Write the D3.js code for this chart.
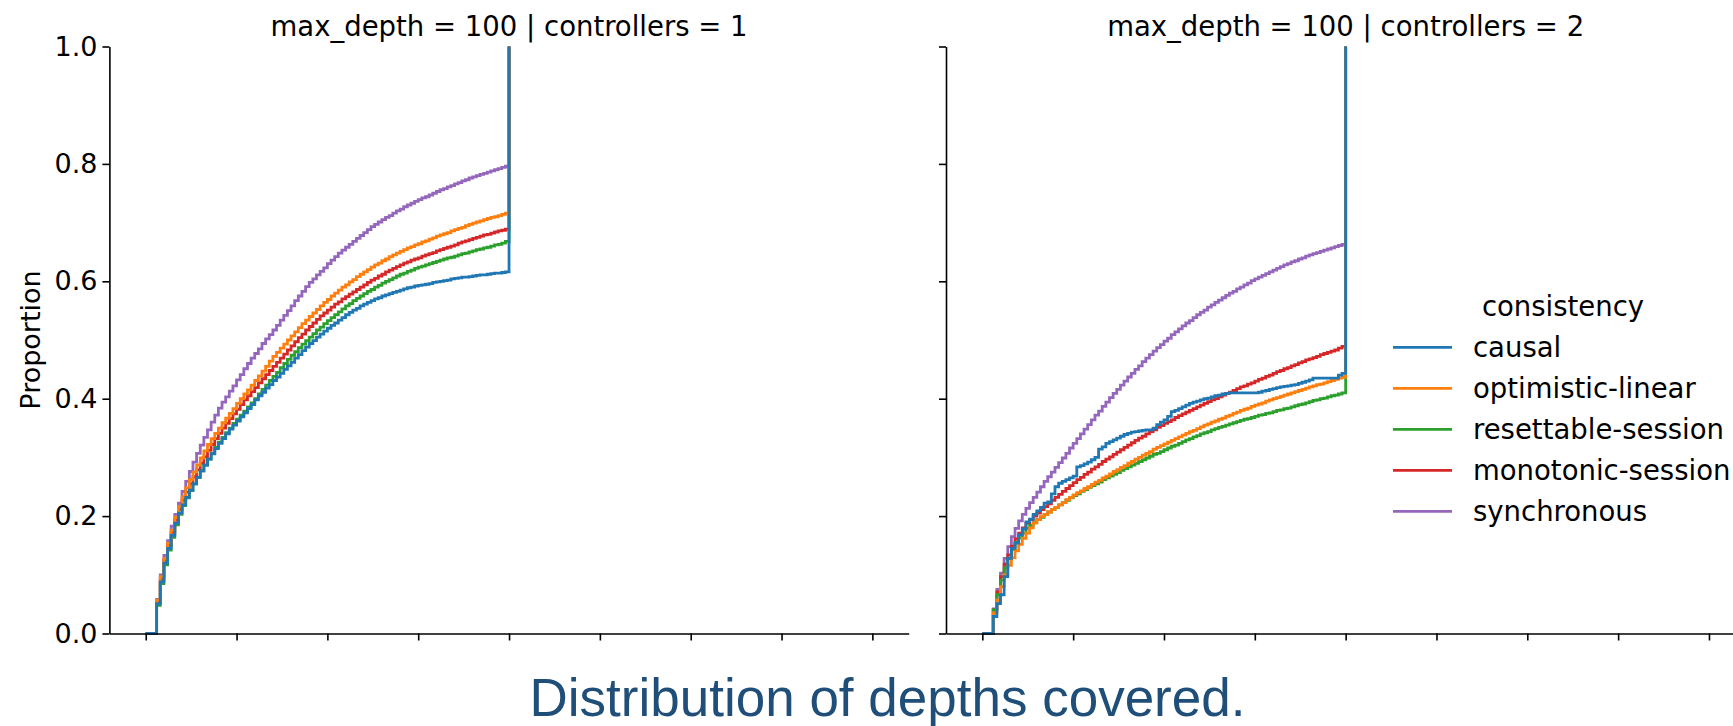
<!DOCTYPE html>
<html>
<head>
<meta charset="utf-8">
<script src="https://cdn.jsdelivr.net/npm/d3@7"></script>
<style>
  body { margin: 0; background: #fff; }
  svg { display: block; }
</style>
</head>
<body>
<script>
const svgWidth = 1733, svgHeight = 726;

// --- data ---------------------------------------------------------------
const hueOrder = ["causal", "optimistic-linear", "resettable-session", "monotonic-session", "synchronous"];
const hueColors = ["#1f77b4", "#ff7f0e", "#2ca02c", "#d62728", "#9467bd"];
const panelTitles = ["max_depth = 100 | controllers = 1", "max_depth = 100 | controllers = 2"];
const yTickValues = [0, 0.2, 0.4, 0.6, 0.8, 1.0];
const xTickValues = [0, 25, 50, 75, 100, 125, 150, 175, 200];
const xDomain = [-10, 210];
const caption = "Distribution of depths covered.";

// cumulative proportion at depth 0..100 (index = depth)
const causal1 = [0,0,0,.051,.088,.120,.145,.167,.188,.205,
  .219,.232,.244,.255,.266,.277,.287,.297,.306,.315,
  .324,.332,.340,.348,.355,.362,.369,.376,.383,.390,
  .398,.405,.411,.418,.424,.431,.437,.443,.450,.456,
  .462,.469,.475,.482,.488,.494,.499,.505,.510,.515,
  .520,.525,.529,.534,.538,.543,.547,.551,.554,.558,
  .561,.564,.567,.570,.572,.575,.577,.579,.581,.583,
  .585,.587,.589,.590,.592,.593,.594,.595,.596,.598,
  .599,.600,.601,.602,.604,.605,.606,.607,.607,.608,
  .609,.610,.611,.611,.612,.613,.614,.614,.615,.616,
  1];
const optimistic1 = [0,0,0,.057,.097,.128,.154,.176,.198,.216,
  .233,.248,.262,.275,.287,.299,.311,.322,.332,.341,
  .350,.359,.367,.375,.383,.392,.400,.408,.415,.423,
  .431,.439,.447,.455,.464,.472,.479,.486,.493,.500,
  .507,.514,.521,.528,.534,.540,.546,.552,.558,.564,
  .569,.575,.580,.585,.590,.594,.599,.603,.608,.612,
  .616,.620,.624,.628,.631,.635,.638,.642,.645,.648,
  .651,.654,.657,.659,.662,.664,.667,.669,.672,.674,
  .677,.679,.681,.683,.686,.688,.690,.692,.695,.697,
  .699,.701,.703,.705,.707,.709,.710,.712,.714,.716,
  1];
const resettable1 = [0,0,0,.048,.085,.117,.142,.164,.185,.203,
  .218,.231,.244,.255,.266,.277,.287,.297,.307,.317,
  .326,.334,.342,.350,.358,.365,.372,.379,.386,.393,
  .400,.408,.416,.423,.431,.438,.445,.453,.460,.467,
  .474,.480,.487,.493,.499,.505,.511,.517,.522,.528,
  .533,.538,.543,.548,.553,.558,.562,.567,.571,.575,
  .579,.583,.586,.590,.593,.597,.600,.603,.606,.609,
  .612,.614,.617,.619,.622,.624,.626,.628,.630,.632,
  .634,.636,.638,.640,.641,.643,.645,.647,.648,.650,
  .652,.654,.655,.657,.658,.660,.662,.663,.665,.668,
  1];
const monotonic1 = [0,0,0,.053,.092,.124,.150,.172,.193,.211,
  .227,.241,.255,.267,.279,.290,.301,.312,.322,.332,
  .341,.350,.358,.366,.374,.382,.390,.398,.405,.412,
  .419,.427,.434,.441,.448,.455,.462,.469,.476,.483,
  .490,.497,.504,.510,.517,.523,.529,.535,.541,.546,
  .551,.556,.561,.565,.570,.574,.578,.582,.586,.590,
  .594,.598,.602,.605,.609,.612,.616,.619,.622,.625,
  .628,.631,.633,.636,.638,.640,.643,.645,.647,.649,
  .652,.654,.656,.658,.660,.662,.665,.667,.669,.671,
  .673,.675,.677,.679,.680,.682,.684,.686,.687,.689,
  1];
const synchronous1 = [0,0,0,.058,.100,.133,.158,.183,.203,.222,
  .242,.259,.276,.292,.307,.321,.334,.347,.360,.372,
  .384,.394,.403,.413,.422,.432,.441,.451,.460,.469,
  .477,.485,.494,.502,.509,.517,.525,.534,.542,.550,
  .558,.567,.575,.583,.591,.598,.604,.611,.617,.623,
  .630,.636,.642,.648,.653,.658,.663,.668,.673,.678,
  .683,.688,.693,.697,.701,.705,.709,.712,.716,.720,
  .723,.727,.730,.733,.736,.739,.742,.744,.747,.750,
  .753,.756,.758,.761,.763,.766,.768,.771,.773,.776,
  .778,.780,.782,.784,.786,.788,.790,.792,.794,.796,
  1];

const causal2 = [0,0,0,.029,.051,.066,.097,.128,.145,.154,
  .168,.178,.190,.195,.203,.209,.215,.222,.224,.238,
  .250,.256,.259,.262,.265,.268,.284,.286,.289,.292,
  .296,.300,.314,.318,.324,.327,.330,.333,.336,.339,
  .341,.343,.344,.345,.346,.347,.347,.350,.356,.360,
  .364,.370,.378,.380,.383,.386,.389,.392,.394,.396,
  .398,.400,.401,.403,.405,.406,.408,.409,.410,.410,
  .410,.410,.410,.410,.410,.410,.411,.413,.414,.416,
  .417,.419,.420,.421,.422,.423,.424,.426,.428,.430,
  .432,.435,.435,.435,.435,.435,.435,.435,.440,.443,
  1];
const optimistic2 = [0,0,0,.035,.057,.080,.100,.116,.129,.141,
  .152,.162,.171,.180,.188,.194,.199,.203,.207,.211,
  .215,.219,.223,.228,.232,.236,.240,.243,.247,.250,
  .254,.258,.261,.265,.268,.272,.276,.279,.283,.286,
  .290,.293,.297,.300,.304,.307,.310,.314,.317,.320,
  .323,.326,.329,.332,.335,.338,.341,.344,.346,.349,
  .352,.355,.357,.360,.362,.365,.367,.370,.372,.375,
  .377,.380,.382,.384,.387,.389,.391,.393,.396,.398,
  .400,.402,.404,.406,.408,.410,.412,.414,.416,.418,
  .420,.422,.424,.425,.427,.429,.431,.433,.435,.437,
  1];
const resettable2 = [0,0,0,.040,.066,.091,.112,.128,.143,.155,
  .163,.171,.179,.184,.189,.194,.198,.203,.207,.211,
  .215,.219,.223,.227,.231,.235,.238,.242,.245,.249,
  .252,.255,.258,.262,.265,.268,.271,.274,.278,.281,
  .284,.287,.290,.293,.296,.299,.302,.305,.307,.310,
  .313,.316,.319,.321,.324,.327,.330,.332,.335,.337,
  .340,.342,.344,.347,.349,.351,.353,.355,.357,.359,
  .361,.363,.365,.366,.368,.370,.372,.373,.375,.376,
  .378,.380,.381,.383,.384,.386,.388,.390,.391,.393,
  .395,.397,.398,.400,.401,.403,.405,.406,.408,.410,
  1];
const monotonic2 = [0,0,0,.040,.071,.097,.118,.134,.149,.161,
  .171,.180,.188,.194,.200,.205,.211,.216,.221,.227,
  .232,.237,.242,.247,.252,.257,.262,.266,.271,.275,
  .280,.284,.288,.293,.297,.301,.305,.309,.313,.317,
  .321,.325,.329,.333,.336,.340,.344,.347,.351,.354,
  .358,.361,.364,.368,.371,.374,.377,.380,.383,.386,
  .389,.392,.395,.398,.400,.403,.406,.409,.411,.414,
  .417,.420,.422,.425,.427,.430,.433,.435,.438,.440,
  .443,.446,.448,.451,.453,.456,.458,.461,.463,.466,
  .468,.470,.472,.475,.477,.479,.481,.483,.486,.489,
  1];
const synchronous2 = [0,0,0,.042,.075,.103,.128,.148,.165,.179,
  .192,.203,.213,.223,.232,.241,.250,.259,.267,.275,
  .283,.291,.299,.307,.316,.324,.332,.340,.348,.356,
  .364,.372,.379,.387,.394,.402,.409,.416,.423,.430,
  .437,.443,.450,.456,.463,.469,.475,.481,.487,.492,
  .498,.503,.509,.514,.519,.524,.529,.533,.538,.543,
  .547,.551,.556,.560,.564,.568,.572,.576,.580,.583,
  .587,.590,.594,.597,.601,.604,.607,.610,.613,.616,
  .619,.622,.625,.628,.630,.633,.635,.638,.640,.643,
  .645,.647,.649,.651,.653,.655,.657,.659,.661,.663,
  1];

const panelSeries = [
  [causal1, optimistic1, resettable1, monotonic1, synchronous1],
  [causal2, optimistic2, resettable2, monotonic2, synchronous2]
];

// --- layout -------------------------------------------------------------
const plotTop = 46.5, plotHeight = 587, plotWidth = 799.3;
const panelLeft = [109.4, 946];
const fontMain = "'DejaVu Sans', sans-serif";

let svg = d3.select("body")
  .append("svg")
  .attr("width", svgWidth)
  .attr("height", svgHeight)
  .style("font-family", fontMain);

let xScale = d3.scaleLinear()
  .domain(xDomain)
  .range([0, plotWidth]);

let yScale = d3.scaleLinear()
  .domain([0, 1])
  .range([plotHeight, 0]);

let stepLine = d3.line()
  .x((d, i) => xScale(i))
  .y((d) => yScale(d))
  .curve(d3.curveStepAfter);

panelSeries.forEach((seriesList, p) => {
  let g = svg.append("g")
    .attr("transform", `translate(${panelLeft[p]}, ${plotTop})`);

  // seaborn draws hue levels in reverse, so causal ends up on top
  let order = d3.range(seriesList.length).reverse();
  g.append("g")
    .attr("class", "lines")
    .selectAll("path")
    .data(order)
    .enter()
    .append("path")
    .attr("d", (k) => stepLine(seriesList[k]))
    .attr("fill", "none")
    .attr("stroke", (k) => hueColors[k])
    .attr("stroke-width", 2.8)
    .attr("stroke-linejoin", "miter");

  let yAxis = d3.axisLeft(yScale)
    .tickValues(yTickValues)
    .tickSize(7)
    .tickSizeOuter(0)
    .tickPadding(5)
    .tickFormat(p === 0 ? d3.format(".1f") : () => "");

  let xAxis = d3.axisBottom(xScale)
    .tickValues(xTickValues)
    .tickSize(7)
    .tickSizeOuter(0)
    .tickFormat(() => "");

  let gy = g.append("g").attr("class", "y-axis").call(yAxis);
  let gx = g.append("g").attr("class", "x-axis")
    .attr("transform", `translate(0, ${plotHeight})`)
    .call(xAxis);

  [gx, gy].forEach((a) => {
    a.selectAll("path, line").attr("stroke", "#000").attr("stroke-width", 1.6);
    a.selectAll("text")
      .attr("fill", "#000")
      .style("font-family", fontMain)
      .style("font-size", "27px");
  });

  g.append("text")
    .attr("x", plotWidth / 2)
    .attr("y", -11)
    .attr("text-anchor", "middle")
    .style("font-size", "27.5px")
    .attr("fill", "#000")
    .text(panelTitles[p]);
});

svg.append("text")
  .attr("transform", `translate(31, ${plotTop + plotHeight / 2}) rotate(-90)`)
  .attr("text-anchor", "middle")
  .attr("dy", "0.35em")
  .style("font-size", "27px")
  .text("Proportion");

// legend
let legend = svg.append("g")
  .attr("transform", "translate(1393, 306.7)");

legend.append("text")
  .attr("x", 170)
  .attr("y", 0)
  .attr("dy", "0.35em")
  .attr("text-anchor", "middle")
  .style("font-size", "27.5px")
  .text("consistency");

let items = legend.selectAll(".item")
  .data(hueOrder)
  .enter()
  .append("g")
  .attr("class", "item")
  .attr("transform", (d, i) => `translate(0, ${40.6 + i * 41})`);

items.append("line")
  .attr("x1", 0)
  .attr("x2", 59)
  .attr("stroke", (d, i) => hueColors[i])
  .attr("stroke-width", 2.8);

items.append("text")
  .attr("x", 80)
  .attr("dy", "0.35em")
  .style("font-size", "27.5px")
  .text((d) => d);

svg.append("text")
  .attr("x", 887.5)
  .attr("y", 716)
  .attr("text-anchor", "middle")
  .attr("fill", "#1f4e79")
  .style("font-family", "'Liberation Sans', Arial, sans-serif")
  .style("font-size", "53px")
  .text(caption);
</script>
</body>
</html>
